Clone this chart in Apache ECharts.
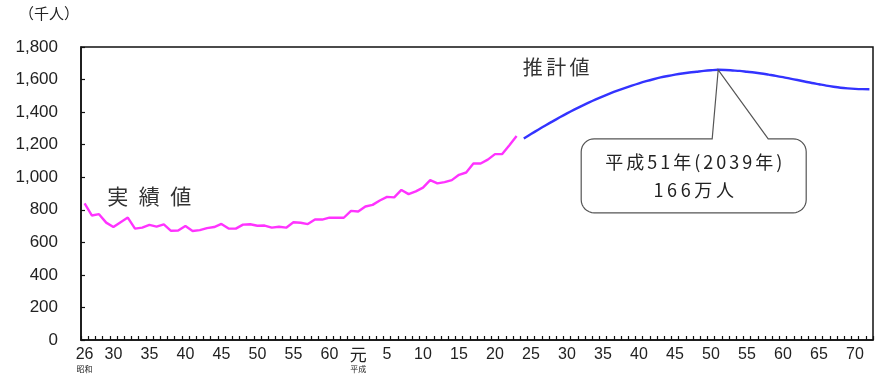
<!DOCTYPE html>
<html>
<head>
<meta charset="utf-8">
<script src="https://cdn.jsdelivr.net/npm/echarts@6/dist/echarts.min.js"></script>
<style>
  html, body { margin: 0; padding: 0; background: #fff; }
  #chart { width: 884px; height: 376px; }
</style>
</head>
<body>
<div id="chart"></div>
<script>
// Era years: Showa 26-63 (1951-1988), Heisei 1-72 (1989-2060)
const showaYears = [];
for (let y = 26; y <= 63; y++) showaYears.push('S' + y);
const heiseiYears = [];
for (let y = 1; y <= 72; y++) heiseiYears.push('H' + y);
const categories = showaYears.concat(heiseiYears);

// Labelled ticks on the year axis
const tickLabels = ['S26', 'S30', 'S35', 'S40', 'S45', 'S50', 'S55', 'S60',
  'H1', 'H5', 'H10', 'H15', 'H20', 'H25', 'H30', 'H35', 'H40', 'H45',
  'H50', 'H55', 'H60', 'H65', 'H70'];

// Recorded deaths, thousands (S26 .. H23)
const actualDeaths = [
  839, 765, 773, 721, 694, 724, 752, 684, 690, 707,
  696, 710, 671, 673, 700, 670, 675, 687, 694, 713,
  685, 684, 709, 711, 702, 703, 690, 696, 690, 723,
  720, 712, 740, 740, 752, 751, 751, 793, 789, 820,
  830, 857, 879, 876, 922, 896, 913, 936, 982, 962,
  970, 982, 1015, 1029, 1084, 1084, 1108, 1142, 1142, 1197,
  1253
];

// Projected deaths, thousands (H24 .. H72)
const projectedDeaths = [
  1238, 1265, 1292, 1318, 1343, 1368, 1392, 1415, 1437, 1458,
  1478, 1497, 1515, 1532, 1548, 1563, 1577, 1590, 1602, 1613,
  1622, 1630, 1637, 1643, 1648, 1653, 1657, 1660, 1659, 1656,
  1653, 1648, 1643, 1637, 1630, 1623, 1615, 1606, 1597, 1588,
  1579, 1571, 1563, 1556, 1550, 1546, 1543, 1541, 1540
];

const yTicks = { min: 0, max: 1800, step: 200 };

const actualSeries = categories.map((c, i) => i < actualDeaths.length ? actualDeaths[i] : null);
const projStart = actualDeaths.length;
const projectedSeries = categories.map((c, i) =>
  i >= projStart && i - projStart < projectedDeaths.length ? projectedDeaths[i - projStart] : null);

// Peak of the projection
let peakIdx = 0;
projectedDeaths.forEach((v, i) => { if (v > projectedDeaths[peakIdx]) peakIdx = i; });
const peakCat = categories[projStart + peakIdx];
const peakVal = projectedDeaths[peakIdx];
const peakHeisei = parseInt(peakCat.slice(1), 10);

// Loosely tracked text: a narrow space between glyphs
const spaced = (s, gap) => Array.from(s).join(gap);
const peakText = spaced('平成' + peakHeisei + '年(' + (1988 + peakHeisei) + '年)', '\u2006') + '\n' +
  spaced(Math.round(peakVal / 10) + '万人', '\u2009');

const numFont = '"Liberation Sans", Arial, sans-serif';
const jpFont = '"Noto Sans CJK JP", sans-serif';

const chart = echarts.init(document.getElementById('chart'), null, { renderer: 'canvas' });

chart.setOption({
  animation: false,
  backgroundColor: '#fff',
  title: {
    text: '（千人）',
    left: 14, top: 1,
    textStyle: { fontFamily: jpFont, fontSize: 15, fontWeight: 'normal', color: '#222' }
  },
  grid: {
    left: 81, right: 11, top: 47, bottom: 36,
    show: true, borderColor: '#111', borderWidth: 1.5, backgroundColor: 'transparent'
  },
  xAxis: {
    type: 'category',
    data: categories,
    boundaryGap: true,
    axisLine: { lineStyle: { color: '#111', width: 1.5 } },
    axisTick: { show: true, inside: true, length: 4, interval: 0, lineStyle: { color: '#111', width: 1.2 } },
    axisLabel: {
      interval: (idx, val) => tickLabels.includes(val),
      margin: 7,
      color: '#222',
      fontFamily: numFont,
      fontSize: 16,
      lineHeight: 16,
      formatter: (val) => {
        const era = val[0];
        const n = parseInt(val.slice(1), 10);
        if (era === 'S' && n === 26) return '26\n{era|昭和}';
        if (era === 'H' && n === 1) return '{gan|元}\n{era|平成}';
        return String(n);
      },
      rich: {
        era: { fontFamily: jpFont, fontSize: 8, lineHeight: 12, color: '#222' },
        gan: { fontFamily: jpFont, fontSize: 17, lineHeight: 16, color: '#222' }
      }
    },
    splitLine: { show: false }
  },
  yAxis: {
    type: 'value',
    min: yTicks.min, max: yTicks.max, interval: yTicks.step,
    axisLine: { show: true, lineStyle: { color: '#111', width: 1.5 } },
    axisTick: { show: true, inside: true, length: 4, lineStyle: { color: '#111', width: 1.2 } },
    axisLabel: {
      margin: 23,
      color: '#222',
      fontFamily: numFont,
      fontSize: 17,
      formatter: (v) => v.toLocaleString('en-US')
    },
    splitLine: { show: false }
  },
  series: [
    {
      name: '実績値',
      type: 'line',
      data: actualSeries,
      symbol: 'none',
      lineStyle: { color: '#ff33ff', width: 2.4 },
      connectNulls: false
    },
    {
      name: '推計値',
      type: 'line',
      data: projectedSeries,
      symbol: 'none',
      smooth: 0.3,
      lineStyle: { color: '#3333ff', width: 2.4 },
      connectNulls: false
    }
  ]
});

// Annotations anchored to data coordinates
const toPx = (cat, v) => chart.convertToPixel({ xAxisIndex: 0, yAxisIndex: 0 }, [cat, v]);
const actualLabelPos = toPx('S29', 900);
const projLabelPos = toPx('H24', 1660);
const peak = toPx(peakCat, peakVal);

// Callout outline: rounded box with a wedge pointing at the peak
const bx0 = peak[0] - 137, bx1 = peak[0] + 88;
const by0 = peak[1] + 69, by1 = peak[1] + 143;
const r = 13;
const pL = peak[0] - 6, pR = peak[0] + 50;

function arcPts(cx, cy, a0, a1) {
  const pts = [];
  const n = 8;
  for (let k = 0; k <= n; k++) {
    const a = a0 + (a1 - a0) * k / n;
    pts.push([cx + r * Math.cos(a), cy + r * Math.sin(a)]);
  }
  return pts;
}
const PI = Math.PI;
const calloutPts = [].concat(
  [[pL, by0], [peak[0], peak[1]], [pR, by0]],
  arcPts(bx1 - r, by0 + r, -PI / 2, 0),
  arcPts(bx1 - r, by1 - r, 0, PI / 2),
  arcPts(bx0 + r, by1 - r, PI / 2, PI),
  arcPts(bx0 + r, by0 + r, PI, 1.5 * PI)
);

chart.setOption({
  graphic: [
    {
      type: 'text',
      left: actualLabelPos[0] + 1, top: actualLabelPos[1] - 8,
      style: { text: spaced('実績値', '\u2002'), fontFamily: jpFont, fontSize: 21, fill: '#333' }
    },
    {
      type: 'text',
      left: projLabelPos[0] - 1, top: projLabelPos[1] - 12,
      style: { text: spaced('推計値', '\u2006'), fontFamily: jpFont, fontSize: 20, fill: '#333' }
    },
    {
      type: 'polygon',
      shape: { points: calloutPts },
      style: { fill: '#fff', stroke: '#555', lineWidth: 1.2 },
      z: 10
    },
    {
      type: 'text',
      x: (bx0 + bx1) / 2, y: (by0 + by1) / 2,
      z: 11,
      style: {
        text: peakText,
        align: 'center', verticalAlign: 'middle',
        fontFamily: jpFont, fontSize: 18, lineHeight: 28, fill: '#222'
      }
    }
  ]
});
</script>
</body>
</html>
